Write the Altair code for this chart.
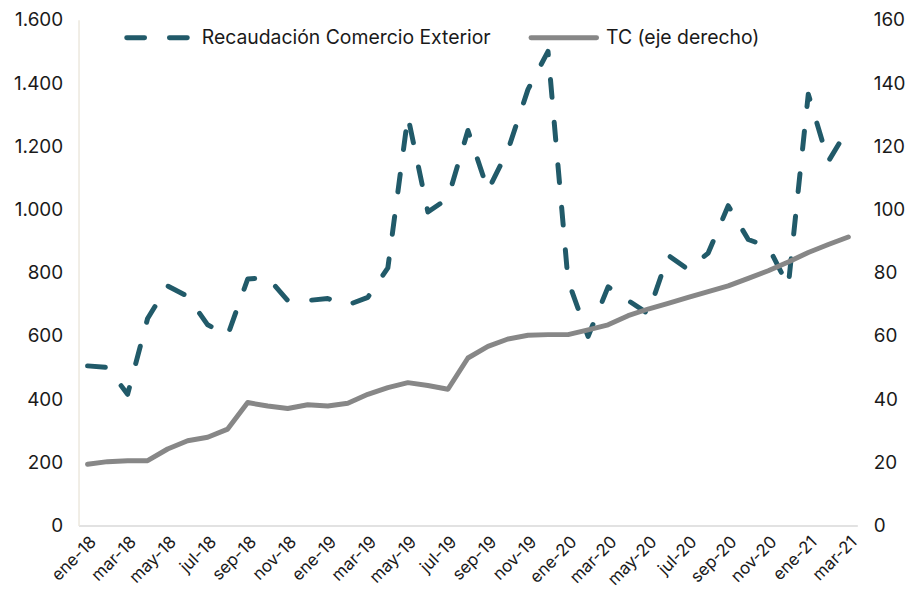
import altair as alt
import pandas as pd

months = [
    "ene-18", "feb-18", "mar-18", "abr-18", "may-18", "jun-18", "jul-18", "ago-18",
    "sep-18", "oct-18", "nov-18", "dic-18",
    "ene-19", "feb-19", "mar-19", "abr-19", "may-19", "jun-19", "jul-19", "ago-19",
    "sep-19", "oct-19", "nov-19", "dic-19",
    "ene-20", "feb-20", "mar-20", "abr-20", "may-20", "jun-20", "jul-20", "ago-20",
    "sep-20", "oct-20", "nov-20", "dic-20",
    "ene-21", "feb-21", "mar-21",
]

recaudacion = [
    505, 500, 415, 655, 758, 725, 635, 602, 780, 785, 712, 712,
    718, 698, 722, 815, 1295, 992, 1035, 1250, 1060, 1188, 1380, 1500,
    775, 598, 755, 712, 670, 855, 810, 862, 1012, 905, 882, 758,
    1365, 1152, 1257,
]

tc = [
    19.4, 20.2, 20.5, 20.5, 24.2, 26.8, 27.9, 30.5, 38.9, 37.8, 37.0, 38.2,
    37.8, 38.7, 41.5, 43.6, 45.2, 44.3, 43.1, 53.0, 56.7, 59.0, 60.2, 60.4,
    60.4, 61.9, 63.5, 66.4, 68.5, 70.3, 72.2, 74.0, 75.8, 78.2, 80.6, 83.4,
    86.4, 88.9, 91.3,
]

legend_labels = ["Recaudación Comercio Exterior", "TC (eje derecho)"]
tick_months = months[::2]

FONT = "Inter"
TEXT = "#1A1A1A"
TEAL = "#215A69"
GREY = "#878787"

df = pd.DataFrame({"mes": months, "rec": recaudacion, "tc": tc})

x_enc = alt.X(
    "mes:O",
    sort=months,
    title=None,
    scale=alt.Scale(type="point", padding=0.45),
    axis=alt.Axis(
        values=tick_months,
        labelAngle=-45,
        ticks=False,
        domainColor="#D9D9D9",
        domainWidth=1.5,
        labelFontSize=17,
        labelPadding=8,
        labelColor=TEXT,
        labelFont=FONT,
    ),
)

rec_line = alt.Chart(df).mark_line(
    color=TEAL, strokeWidth=5, strokeDash=[18, 25], strokeCap="round", strokeJoin="round"
).encode(
    x=x_enc,
    y=alt.Y(
        "rec:Q",
        title=None,
        scale=alt.Scale(domain=[0, 1600], nice=False),
        axis=alt.Axis(
            orient="left",
            values=list(range(0, 1601, 200)),
            labelExpr="replace(format(datum.value, ','), ',', '.')",
            ticks=False,
            grid=False,
            domainColor="#ECE8DE",
            domainWidth=1.5,
            labelFontSize=19,
            labelPadding=16,
            labelColor=TEXT,
            labelFont=FONT,
        ),
    ),
)

tc_line = alt.Chart(df).mark_line(
    color=GREY, strokeWidth=5, strokeCap="round", strokeJoin="round"
).encode(
    x=x_enc,
    y=alt.Y(
        "tc:Q",
        title=None,
        scale=alt.Scale(domain=[0, 160], nice=False),
        axis=alt.Axis(
            orient="right",
            values=list(range(0, 161, 20)),
            ticks=False,
            grid=False,
            domain=False,
            labelFontSize=19,
            labelPadding=16,
            labelColor=TEXT,
            labelFont=FONT,
        ),
    ),
)

# Legend (drawn manually at the top of the plot area)
leg_df = pd.DataFrame({"label": legend_labels})

leg_rec_sym = alt.Chart(leg_df.iloc[[0]]).mark_rule(
    color=TEAL, strokeWidth=5, strokeDash=[18, 25], strokeCap="round"
).encode(x=alt.value(48.5), x2=alt.value(110), y=alt.value(18))

leg_rec_txt = alt.Chart(leg_df.iloc[[0]]).mark_text(
    align="left", baseline="middle", fontSize=19.5, font=FONT, color=TEXT
).encode(text="label:N", x=alt.value(124), y=alt.value(18))

leg_tc_sym = alt.Chart(leg_df.iloc[[1]]).mark_rule(
    color=GREY, strokeWidth=5, strokeCap="round"
).encode(x=alt.value(455.5), x2=alt.value(521.5), y=alt.value(18))

leg_tc_txt = alt.Chart(leg_df.iloc[[1]]).mark_text(
    align="left", baseline="middle", fontSize=19.5, font=FONT, color=TEXT
).encode(text="label:N", x=alt.value(531), y=alt.value(18))

chart = (
    alt.layer(rec_line, tc_line, leg_rec_sym, leg_rec_txt, leg_tc_sym, leg_tc_txt)
    .resolve_scale(y="independent")
    .properties(
        width=784,
        height=509,
        autosize=alt.AutoSizeParams(type="none"),
        padding={"left": 71, "top": 10, "right": 52, "bottom": 62},
        background="white",
    )
    .configure_view(stroke=None)
)

chart.save("out.html", embed_options={"renderer": "svg", "actions": False})
